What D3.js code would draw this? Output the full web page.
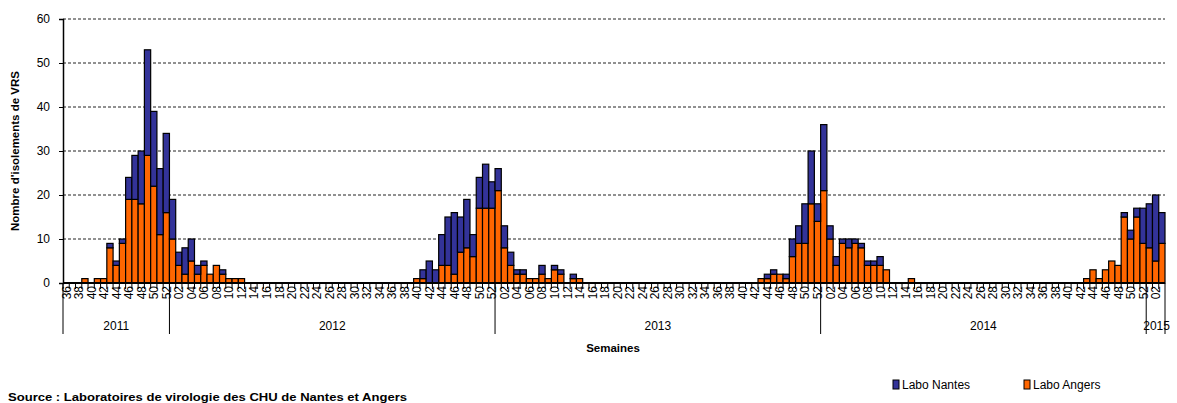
<!DOCTYPE html>
<html>
<head>
<meta charset="utf-8">
<script src="https://cdn.jsdelivr.net/npm/d3@7"></script>
<style>
  body { margin: 0; background: #fff; }
  text { font-family: "Liberation Sans", Arial, sans-serif; }
</style>
</head>
<body>
<svg id="chart" width="1177" height="403"></svg>
<script>
// seasons shown on the x axis (first / last week of each year)
const years = [
  { year: 2011, first: 36, last: 52 },
  { year: 2012, first: 1, last: 52 },
  { year: 2013, first: 1, last: 52 },
  { year: 2014, first: 1, last: 52 },
  { year: 2015, first: 1, last: 3 }
];

// Labo Angers (orange) by week
const angers2011 = [0,0,0,1,0,1,1,8,4,9,19,19,18,29,22,11,16];
const angers2012 = [10,4,2,5,2,4,2,4,2,1,1,1,
  0,0,0,0,0,0,0,0,0,0,0,0,0,0,0,0,0,0,0,0,0,0,0,0,0,0,0,
  1,1,0,0,4,4,2,7,8,6,17,17,17];
const angers2013 = [21,8,4,2,2,1,1,2,1,3,2,0,1,1,
  0,0,0,0,0,0,0,0,0,0,0,0,0,0,0,0,0,0,0,0,0,0,0,0,0,0,0,0,
  1,1,2,2,1,6,9,9,18,14];
const angers2014 = [21,10,4,9,8,9,8,4,4,4,3,0,0,0,1,
  0,0,0,0,0,0,0,0,0,0,0,0,0,0,0,0,0,0,0,0,0,0,0,0,0,0,0,
  1,3,1,3,5,4,15,10,15,9];
const angers2015 = [8,5,9];

// Labo Nantes (blue) by week
const nantes2011 = [0,0,0,0,0,0,0,1,1,1,5,10,12,24,17,15,18];
const nantes2012 = [9,3,6,5,2,1,0,0,1,0,0,0,
  0,0,0,0,0,0,0,0,0,0,0,0,0,0,0,0,0,0,0,0,0,0,0,0,0,0,0,
  0,2,5,3,7,11,14,8,11,5,7,10,6];
const nantes2013 = [5,5,3,1,1,0,0,2,0,1,1,0,1,0,
  0,0,0,0,0,0,0,0,0,0,0,0,0,0,0,0,0,0,0,0,0,0,0,0,0,0,0,0,
  0,1,1,0,1,4,4,9,12,4];
const nantes2014 = [15,3,2,1,2,1,1,1,1,2,0,0,0,0,0,
  0,0,0,0,0,0,0,0,0,0,0,0,0,0,0,0,0,0,0,0,0,0,0,0,0,0,0,
  0,0,0,0,0,0,1,2,2,8];
const nantes2015 = [10,15,7];

const yTicks = [0, 10, 20, 30, 40, 50, 60];

const angers = [angers2011, angers2012, angers2013, angers2014, angers2015];
const nantes = [nantes2011, nantes2012, nantes2013, nantes2014, nantes2015];

// build one row per week
const rows = [];
years.forEach((y, k) => {
  for (let w = y.first; w <= y.last; w++) {
    const j = w - y.first;
    rows.push({ key: y.year + '-' + w, year: y.year, week: w,
                angers: angers[k][j], nantes: nantes[k][j] });
  }
});

const svg = d3.select('#chart');
const x0 = 63, x1 = 1165, yTop = 19, yBase = 283;

const x = d3.scaleBand().domain(rows.map(d => d.key)).range([x0, x1]).padding(0);
const y = d3.scaleLinear().domain([0, 60]).range([yBase, yTop]);

const colors = { angers: '#FF6600', nantes: '#333399' };

// gridlines
svg.append('g')
  .selectAll('line')
  .data(yTicks.filter(t => t > 0))
  .join('line')
  .attr('x1', x0).attr('x2', x1)
  .attr('y1', d => y(d)).attr('y2', d => y(d))
  .attr('stroke', '#222')
  .attr('stroke-width', 1)
  .attr('stroke-dasharray', '3,2');

// stacked bars
const stack = d3.stack().keys(['angers', 'nantes'])(rows);
svg.append('g')
  .selectAll('g')
  .data(stack)
  .join('g')
  .attr('fill', d => colors[d.key])
  .selectAll('rect')
  .data(d => d.filter(s => s[1] > s[0]))
  .join('rect')
  .attr('x', d => x(d.data.key))
  .attr('width', x.bandwidth())
  .attr('y', d => y(d[1]))
  .attr('height', d => y(d[0]) - y(d[1]))
  .attr('stroke', '#000')
  .attr('stroke-width', 1.2);

// y axis
const yAxis = svg.append('g')
  .attr('transform', `translate(${x0},0)`)
  .call(d3.axisLeft(y).tickValues(yTicks).tickSize(4).tickPadding(9));
yAxis.select('.domain').attr('stroke', '#000').attr('stroke-width', 1.5);
yAxis.selectAll('text').attr('font-size', 12).attr('fill', '#000')
  .attr('font-family', '"Liberation Sans", Arial, sans-serif');

svg.append('text')
  .attr('transform', `translate(19,${(yTop + yBase) / 2}) rotate(-90)`)
  .attr('text-anchor', 'middle')
  .attr('font-size', 11.5)
  .attr('font-weight', 'bold')
  .text("Nombre d'isolements de VRS");

// x axis: week ticks and labels
const xAxis = svg.append('g');
xAxis.selectAll('line.tick')
  .data(rows)
  .join('line')
  .attr('class', 'tick')
  .attr('x1', d => x(d.key)).attr('x2', d => x(d.key))
  .attr('y1', yBase).attr('y2', yBase + 6)
  .attr('stroke', '#000');

xAxis.selectAll('text')
  .data(rows.filter(d => d.week % 2 === 0))
  .join('text')
  .attr('transform', d => `translate(${x(d.key) + x.bandwidth() / 2 + 4.5},${yBase + 3}) rotate(-90)`)
  .attr('text-anchor', 'end')
  .attr('font-size', 12)
  .text(d => String(d.week).padStart(2, '0'));

xAxis.append('line')
  .attr('x1', x0).attr('x2', x1)
  .attr('y1', yBase).attr('y2', yBase)
  .attr('stroke', '#000').attr('stroke-width', 2);

// year separators and labels
const yearBounds = years.map(yr => {
  const inYear = rows.filter(d => d.year === yr.year);
  const first = inYear[0], last = inYear[inYear.length - 1];
  return { year: yr.year, a: x(first.key), b: x(last.key) + x.bandwidth() };
});
const seps = [x0].concat(yearBounds.map(d => d.b));
svg.append('g')
  .selectAll('line')
  .data(seps)
  .join('line')
  .attr('x1', d => d).attr('x2', d => d)
  .attr('y1', yBase).attr('y2', 334)
  .attr('stroke', '#000').attr('stroke-width', 1);

svg.append('g')
  .selectAll('text')
  .data(yearBounds)
  .join('text')
  .attr('x', d => (d.a + d.b) / 2 + (d.year === 2015 ? 1 : 0))
  .attr('y', 330)
  .attr('text-anchor', 'middle')
  .attr('font-size', 12)
  .text(d => d.year);

svg.append('text')
  .attr('x', 613).attr('y', 352)
  .attr('text-anchor', 'middle')
  .attr('font-size', 11.5)
  .attr('font-weight', 'bold')
  .text('Semaines');

// legend
const legend = [
  { label: 'Labo Nantes', key: 'nantes', x: 893 },
  { label: 'Labo Angers', key: 'angers', x: 1024 }
];
const lg = svg.append('g').selectAll('g').data(legend).join('g')
  .attr('transform', d => `translate(${d.x},380)`);
lg.append('rect')
  .attr('width', 6).attr('height', 9)
  .attr('fill', d => colors[d.key])
  .attr('stroke', '#000').attr('stroke-width', 1);
lg.append('text')
  .attr('x', 9).attr('y', 9)
  .attr('font-size', 12)
  .text(d => d.label);

svg.append('text')
  .attr('x', 8).attr('y', 401)
  .attr('font-size', 11.5)
  .attr('font-weight', 'bold')
  .attr('textLength', 399)
  .attr('lengthAdjust', 'spacingAndGlyphs')
  .text('Source : Laboratoires de virologie des CHU de Nantes et Angers');
</script>
</body>
</html>
